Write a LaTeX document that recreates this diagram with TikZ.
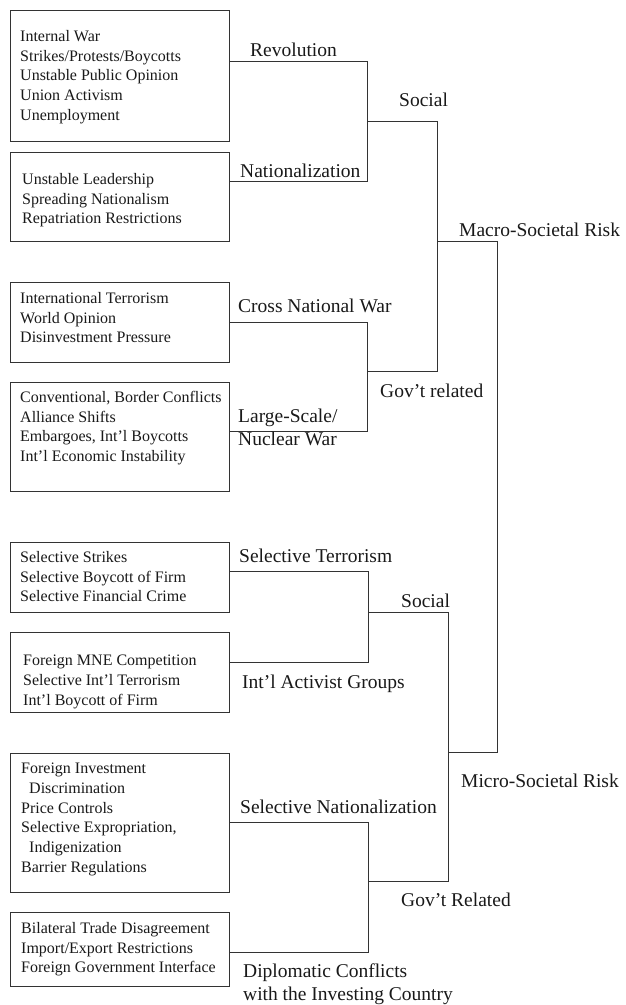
\documentclass[tikz,border=0pt]{standalone}
\usepackage{fontspec}
\setmainfont{Liberation Serif}
\begin{document}
\begin{tikzpicture}[x=1pt,y=-1pt,
  riskbox/.style={draw=black!80, line width=0.8pt, anchor=north west, minimum width=219pt, inner sep=0pt},
  items/.style={anchor=north west, align=left, inner sep=0pt, font=\fontsize{16}{19.7}\selectfont, text=black!90},
  tag/.style={anchor=base west, inner sep=0pt, font=\fontsize{19.5}{23}\selectfont, text=black!90},
  tagtwo/.style={anchor=north west, align=left, inner sep=0pt, font=\fontsize{19.5}{23}\selectfont, text=black!90},
  link/.style={draw=black!80, line width=0.8pt}]
\useasboundingbox (0,0) rectangle (626,1005);

% ---------- factor boxes ----------
\node[riskbox, minimum height=131pt] (b1) at (10,10) {};
\node[riskbox, minimum height=89pt]  (b2) at (10,152) {};
\node[riskbox, minimum height=80pt]  (b3) at (10,282) {};
\node[riskbox, minimum height=109pt] (b4) at (10,382) {};
\node[riskbox, minimum height=70pt]  (b5) at (10,542) {};
\node[riskbox, minimum height=80pt]  (b6) at (10,632) {};
\node[riskbox, minimum height=139pt] (b7) at (10,753) {};
\node[riskbox, minimum height=74pt]  (b8) at (10,912) {};

\node[items] (t1) at (20,30) {Internal War\\Strikes/Protests/Boycotts\\Unstable Public Opinion\\Union Activism\\Unemployment};
\node[items] (t2) at (22,173) {Unstable Leadership\\Spreading Nationalism\\Repatriation Restrictions};
\node[items] (t3) at (20,292) {International Terrorism\\World Opinion\\Disinvestment Pressure};
\node[items] (t4) at (20,391) {Conventional, Border Conflicts\\Alliance Shifts\\Embargoes, Int’l Boycotts\\Int’l Economic Instability};
\node[items] (t5) at (20,551) {Selective Strikes\\Selective Boycott of Firm\\Selective Financial Crime};
\node[items] (t6) at (23,655) {Foreign MNE Competition\\Selective Int’l Terrorism\\Int’l Boycott of Firm};
\node[items] (t7) at (21,763) {Foreign Investment\\\hspace*{8pt}Discrimination\\Price Controls\\Selective Expropriation,\\\hspace*{8pt}Indigenization\\Barrier Regulations};
\node[items] (t8) at (21,922) {Bilateral Trade Disagreement\\Import/Export Restrictions\\Foreign Government Interface};

% ---------- junction points ----------
\coordinate (r1) at (367,61);
\coordinate (r2) at (367,181);
\coordinate (r3) at (367,322);
\coordinate (r4) at (367,431);
\coordinate (r5) at (368,571);
\coordinate (r6) at (368,662);
\coordinate (r7) at (368,822);
\coordinate (r8) at (368,952);

\coordinate (j1) at (367,121);
\coordinate (s1) at (437,121);
\coordinate (j2) at (367,371);
\coordinate (g1) at (437,371);
\coordinate (j4) at (368,612);
\coordinate (s2) at (448,612);
\coordinate (j5) at (368,881);
\coordinate (g2) at (448,881);

\coordinate (ma) at (437,241);
\coordinate (mb) at (497,241);
\coordinate (mc) at (497,752);
\coordinate (md) at (448,752);

% ---------- connectors ----------
\draw[link] (b1.east |- r1) -- (r1) -- (r2) -- (b2.east |- r2);
\draw[link] (b3.east |- r3) -- (r3) -- (r4) -- (b4.east |- r4);
\draw[link] (b5.east |- r5) -- (r5) -- (r6) -- (b6.east |- r6);
\draw[link] (b7.east |- r7) -- (r7) -- (r8) -- (b8.east |- r8);
\draw[link] (j1) -- (s1) -- (g1) -- (j2);
\draw[link] (j4) -- (s2) -- (g2) -- (j5);
\draw[link] (ma) -- (mb) -- (mc) -- (md);

% ---------- labels ----------
\node[tag] (l1) at (250,56) {Revolution};
\node[tag] (l2) at (240,177) {Nationalization};
\node[tag] (l3) at (399,106) {Social};
\node[tag] (l4) at (459,236) {Macro-Societal Risk};
\node[tag] (l5) at (238,312) {Cross National War};
\node[tag] (l6) at (380,397) {Gov’t related};
\node[tagtwo] (l7) at (238,408.5) {Large-Scale/\\Nuclear War};
\node[tag] (l8) at (239,562) {Selective Terrorism};
\node[tag] (l9) at (401,607) {Social};
\node[tag] (l10) at (242,688) {Int’l Activist Groups};
\node[tag] (l11) at (461,787) {Micro-Societal Risk};
\node[tag] (l12) at (240,813) {Selective Nationalization};
\node[tag] (l13) at (401,906) {Gov’t Related};
\node[tagtwo] (l14) at (243,963.5) {Diplomatic Conflicts\\with the Investing Country};
\end{tikzpicture}
\end{document}
